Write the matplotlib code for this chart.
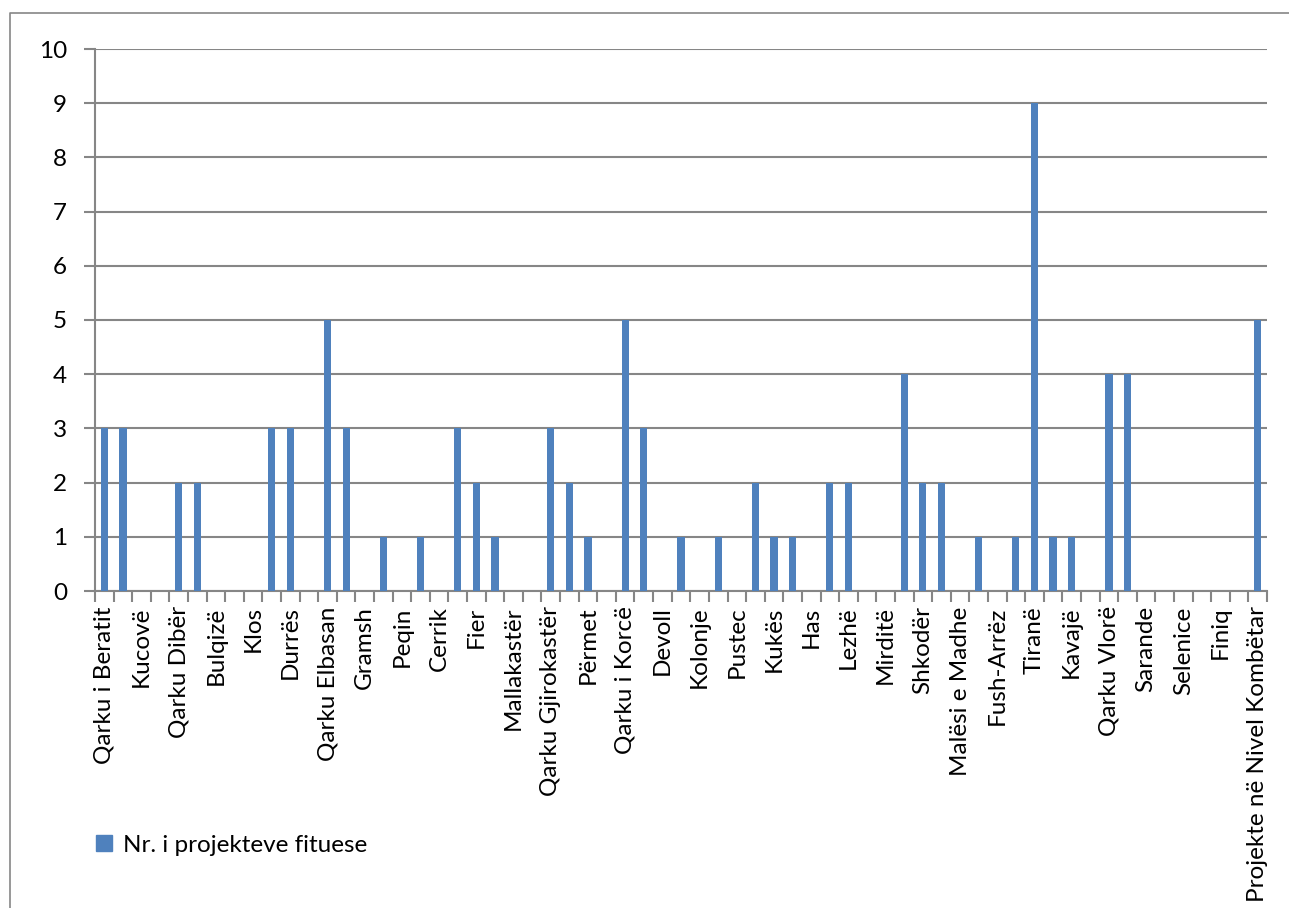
import matplotlib
matplotlib.use("Agg")
import matplotlib.pyplot as plt
from matplotlib.lines import Line2D
import numpy as np

plt.rcParams["font.family"] = ["Lato", "DejaVu Sans"]

# every other category label is hidden in the original (Excel skips them)
categories = [
    "Qarku i Beratit", "Berat", "Kucovë", "Skrapar", "Qarku Dibër", "Dibër",
    "Bulqizë", "Mat", "Klos", "Qarku Durrës", "Durrës", "Shijak",
    "Qarku Elbasan", "Elbasan", "Gramsh", "Librazhd", "Peqin", "Belsh",
    "Cerrik", "Qarku Fier", "Fier", "Lushnjë", "Mallakastër", "Patos",
    "Qarku Gjirokastër", "Gjirokastër", "Përmet", "Tepelenë",
    "Qarku i Korcë", "Korcë", "Devoll", "Pogradec", "Kolonje", "Maliq",
    "Pustec", "Qarku Kukës", "Kukës", "Tropojë", "Has", "Qarku Lezhë",
    "Lezhë", "Kurbin", "Mirditë", "Qarku Shkodër", "Shkodër", "Pukë",
    "Malësi e Madhe", "Vau i Dejës", "Fush-Arrëz", "Qarku Tiranë", "Tiranë",
    "Kamëz", "Kavajë", "Vorë", "Qarku Vlorë", "Vlorë", "Sarande", "Himarë",
    "Selenice", "Delvinë", "Finiq", "Konispol", "Projekte në Nivel Kombëtar",
]
values = [
    3, 3, 0, 0, 2, 2, 0, 0, 0, 3, 3, 0,
    5, 3, 0, 1, 0, 1, 0, 3, 2, 1, 0, 0,
    3, 2, 1, 0, 5, 3, 0, 1, 0, 1, 0, 2,
    1, 1, 0, 2, 2, 0, 0, 4, 2, 2, 0, 1,
    0, 1, 9, 1, 1, 0, 4, 4, 0, 0, 0, 0,
    0, 0, 5,
]
series_name = "Nr. i projekteve fituese"

BAR_COLOR = "#4F81BD"
GRID = "#868686"
FS = 17.5

fig = plt.figure(figsize=(12.89, 9.08), dpi=100)
ax = fig.add_axes([95 / 1289, 1 - 591 / 908, (1267 - 95) / 1289, (591 - 49) / 908])

x = np.arange(len(categories))
ax.bar(x, values, width=0.39, color=BAR_COLOR, zorder=3, label=series_name)

ax.set_xlim(-0.5, len(categories) - 0.5)
ax.set_ylim(0, 10)
ax.set_yticks(range(0, 11))
ax.grid(axis="y", color=GRID, linewidth=1.5, zorder=0)
for side in ("top", "right"):
    ax.spines[side].set_visible(False)
for side in ("left", "bottom"):
    ax.spines[side].set_color(GRID)
    ax.spines[side].set_linewidth(1.5)
ax.tick_params(axis="y", length=8, width=1.5, color=GRID, labelsize=FS, pad=12)

# tick marks at category boundaries, labels on every other category
ax.set_xticks(np.arange(-0.5, len(categories), 1.0))
ax.set_xticklabels([])
ax.tick_params(axis="x", which="major", length=8, width=1.5, color=GRID)
ax.set_xticks(x[::2], minor=True)
ax.set_xticklabels(categories[::2], minor=True, rotation=90, fontsize=FS,
                   va="top", ha="center")
ax.tick_params(axis="x", which="minor", length=0, pad=11)

fig.legend(handles=[Line2D([], [], marker="s", linestyle="none", markersize=12,
                           color=BAR_COLOR, label=series_name)],
           loc="center left", bbox_to_anchor=(70 / 1289, 1 - 845 / 908),
           frameon=False, fontsize=FS, handletextpad=0.3, handlelength=1.0)

# chart area border (left and top edges visible in the original)
fig.add_artist(Line2D([10 / 1289, 10 / 1289, 1.0], [0.0, 1 - 13 / 908, 1 - 13 / 908],
                      transform=fig.transFigure, color=GRID, linewidth=1.2))

fig.savefig("out.png", dpi=100, facecolor="white")
